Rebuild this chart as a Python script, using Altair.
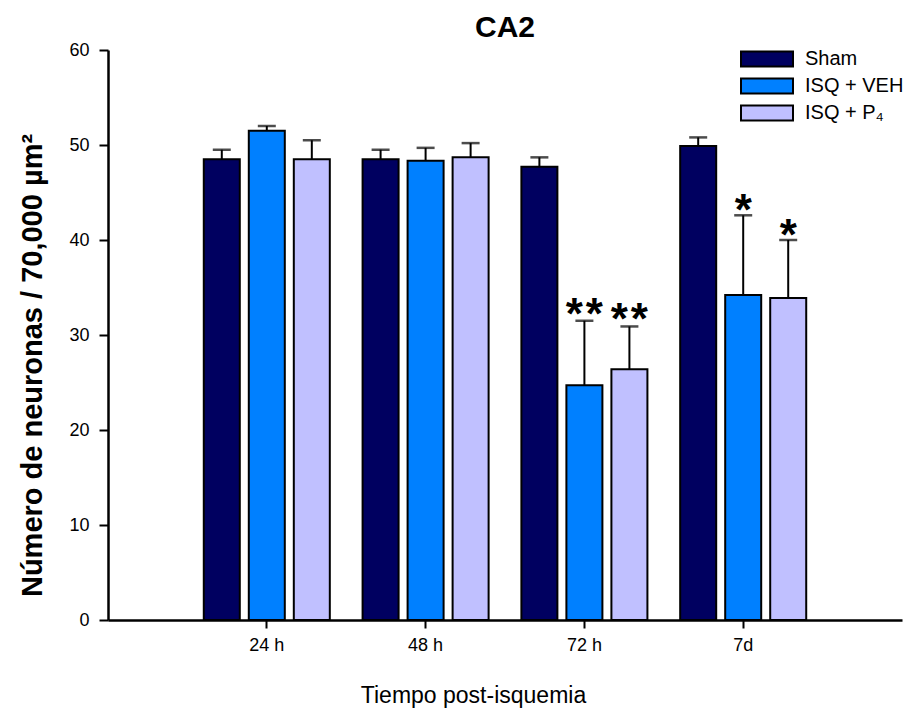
import altair as alt
import pandas as pd

groups = ["24 h", "48 h", "72 h", "7d"]
series = ["Sham", "ISQ + VEH", "ISQ + P₄"]
colors = ["#000060", "#0080FF", "#C0C0FF"]

sham = [48.5, 48.5, 47.7, 49.9]
sham_err = [1.0, 1.0, 1.0, 0.9]
veh = [51.5, 48.35, 24.7, 34.2]
veh_err = [0.5, 1.35, 6.8, 8.4]
p4 = [48.5, 48.7, 26.4, 33.9]
p4_err = [2.0, 1.5, 4.5, 6.1]
# number of significance asterisks above each bar
sham_sig = [0, 0, 0, 0]
veh_sig = [0, 0, 2, 1]
p4_sig = [0, 0, 2, 1]

rows = []
for s, vals, errs, sigs in [
    (series[0], sham, sham_err, sham_sig),
    (series[1], veh, veh_err, veh_sig),
    (series[2], p4, p4_err, p4_sig),
]:
    for g, v, e, sg in zip(groups, vals, errs, sigs):
        rows.append({"grupo": g, "serie": s, "valor": v, "sup": v + e, "nsig": sg})
df = pd.DataFrame(rows)

FONT = "Liberation Sans"

x_enc = alt.X(
    "grupo:N",
    sort=groups,
    scale=alt.Scale(paddingInner=0, paddingOuter=0.5),
    axis=alt.Axis(
        title="Tiempo post-isquemia",
        labelAngle=0,
        labelFontSize=18,
        labelFont=FONT,
        labelColor="black",
        labelPadding=8,
        tickSize=8,
        tickWidth=2,
        tickColor="black",
        domainColor="black",
        domainWidth=2.5,
        titleFont=FONT,
        titleFontSize=23,
        titleFontWeight="normal",
        titleColor="black",
        titleX=365,
        titleY=75,
        titleBaseline="middle",
        titleAlign="center",
    ),
)
xo_enc = alt.XOffset(
    "serie:N", sort=series, scale=alt.Scale(paddingInner=0.2, paddingOuter=0.364)
)

y_scale = alt.Scale(domain=[0, 60], nice=False)

bars = alt.Chart(df).mark_bar(stroke="black", strokeWidth=2).encode(
    x=x_enc,
    xOffset=xo_enc,
    y=alt.Y(
        "valor:Q",
        scale=y_scale,
        axis=alt.Axis(
            title="Número de neuronas / 70,000 µm²",
            values=[0, 10, 20, 30, 40, 50, 60],
            grid=False,
            labelFontSize=18,
            labelFont=FONT,
            labelColor="black",
            labelPadding=10,
            tickSize=9,
            tickWidth=2,
            tickColor="black",
            domainColor="black",
            domainWidth=2.5,
            titleFont=FONT,
            titleFontSize=29,
            titleFontWeight="bold",
            titleColor="black",
            titleAngle=-90,
            titleX=-76,
            titleY=315,
            titleBaseline="middle",
            titleAlign="center",
        ),
    ),
    fill=alt.Fill(
        "serie:N",
        sort=series,
        scale=alt.Scale(domain=series, range=colors),
        legend=alt.Legend(
            title=None,
            orient="none",
            legendX=645,
            legendY=-5,
            symbolType="M-2,-0.58H2V0.58H-2Z",
            symbolSize=676,
            symbolStrokeColor="black",
            symbolStrokeWidth=2,
            labelFontSize=20,
            labelFont=FONT,
            labelColor="black",
            labelOffset=24,
            rowPadding=1,
        ),
    ),
)

rules = alt.Chart(df).mark_rule(color="black", strokeWidth=2).encode(
    x=alt.X("grupo:N", sort=groups),
    xOffset=alt.XOffset("serie:N", sort=series),
    y=alt.Y("valor:Q", scale=y_scale),
    y2="sup:Q",
)

caps = alt.Chart(df).mark_tick(
    color="black", thickness=2.5, size=18, orient="horizontal"
).encode(
    x=alt.X("grupo:N", sort=groups),
    xOffset=alt.XOffset("serie:N", sort=series),
    y=alt.Y("sup:Q", scale=y_scale),
)

star_base = alt.Chart(df).encode(
    x=alt.X("grupo:N", sort=groups),
    xOffset=alt.XOffset("serie:N", sort=series),
    y=alt.Y("sup:Q", scale=y_scale),
    text=alt.value("*"),
)
star_style = dict(font=FONT, fontSize=44, fontWeight="bold", color="black",
                  baseline="alphabetic", align="center")

star1 = star_base.transform_filter("datum.nsig == 1").mark_text(dy=10, **star_style)
star2a = star_base.transform_filter("datum.nsig == 2").mark_text(dx=-10, dy=8, **star_style)
star2b = star_base.transform_filter("datum.nsig == 2").mark_text(dx=10, dy=8, **star_style)

chart = (
    alt.layer(bars, rules, caps, star1, star2a, star2b)
    .properties(
        width=794,
        height=570,
        title=alt.TitleParams(
            "CA2", fontSize=30, font=FONT, fontWeight="bold", color="black",
            anchor="middle", offset=3, dy=5,
        ),
        autosize=alt.AutoSizeParams(type="none"),
        padding={"left": 100, "top": 42, "right": 2, "bottom": 90},
    )
    .configure_view(stroke=None)
)

chart.save("out.html", embed_options={"renderer": "svg", "actions": False})
